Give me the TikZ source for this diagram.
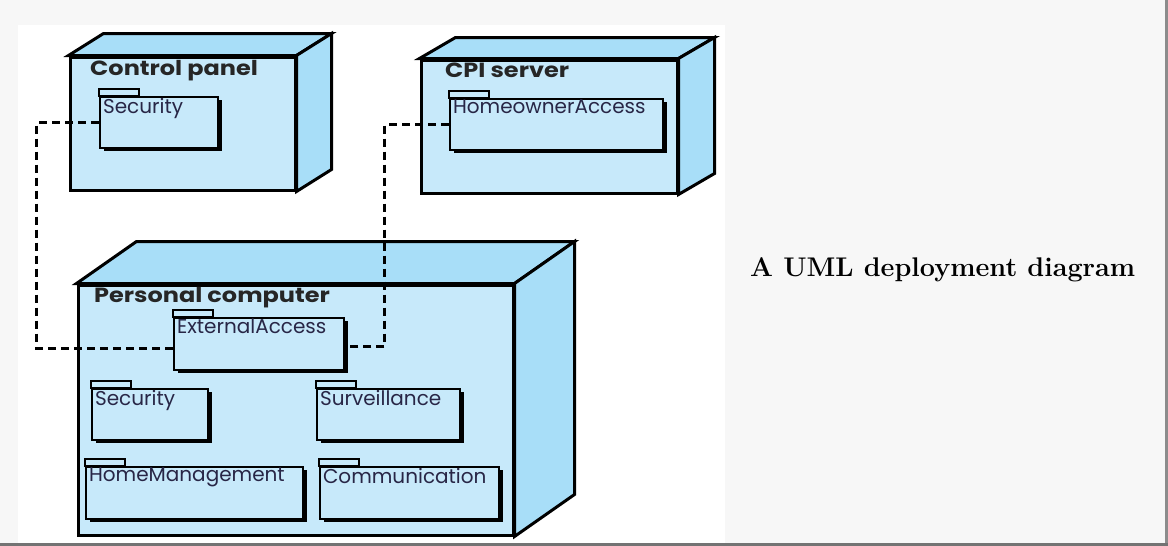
\documentclass[tikz,border=0pt]{standalone}
\usepackage{fontspec}
\newfontfamily\geofont{Poppins}
\newfontfamily\geowide[FakeStretch=1.17]{Poppins}
\usetikzlibrary{shadows}

\definecolor{faceblue}{RGB}{199,233,250}
\definecolor{sideblue}{RGB}{168,222,248}
\definecolor{pagegray}{RGB}{247,247,247}
\definecolor{labelink}{RGB}{40,38,70}

\tikzset{
  device/.style={draw, line width=3pt, fill=faceblue, inner sep=0pt},
  devtitle/.style={anchor=base west, inner sep=0pt, text=black!85,
    font=\geowide\bfseries\fontsize{20.5}{22}\selectfont},
  pkg/.style={draw, line width=2.3pt, fill=faceblue, inner sep=0pt,
    drop shadow={shadow xshift=4pt, shadow yshift=-3pt, fill=black, opacity=1}},
  pkgtab/.style={draw, line width=1.8pt, fill=faceblue},
  pkgtext/.style={anchor=north west, inner sep=0pt, xshift=4pt, yshift=-2pt,
    text=labelink, font=\geofont\fontsize{20}{22}\selectfont},
  conn/.style={line width=3pt, dash pattern=on 8pt off 5pt}
}

\begin{document}
\begin{tikzpicture}[x=1pt, y=-1pt]
  \useasboundingbox (0,0) rectangle (1168,546);
  \fill[pagegray] (0,0) rectangle (1168,546);
  \fill[white] (18,25) rectangle (725,543);
  \fill[black!55] (0,543) rectangle (1168,546);
  \fill[black!45] (1165,0) rectangle (1168,543);

  % nodes (front faces)
  \node[device, minimum width=225pt, minimum height=133pt] (cp) at (182.5,123.5) {};
  \node[device, minimum width=256pt, minimum height=133pt] (cpi) at (549,126.5) {};
  \node[device, minimum width=435pt, minimum height=250pt] (pc) at (295.5,410) {};

  % top and side faces
  \foreach \d/\dx/\dy in {cp/35/22, cpi/36/21, pc/60/42} {
    \draw[device, fill=sideblue] (\d.north west) -- ++(\dx,-\dy)
      -- ([shift={(\dx,-\dy)}]\d.north east) -- (\d.north east) -- cycle;
    \draw[device, fill=sideblue] (\d.north east) -- ++(\dx,-\dy)
      -- ([shift={(\dx,-\dy)}]\d.south east) -- (\d.south east) -- cycle;
  }

  \node[devtitle] (cptitle) at (90,75) {Control panel};
  \node[devtitle] (cpititle) at (445,77) {CPI server};
  \node[devtitle] (pctitle) at (94,302) {Personal computer};

  % packages
  \node[pkg, minimum width=118pt, minimum height=51pt,
    label={[pkgtext]north west:Security}] (cpsec) at (159,122.5) {};
  \node[pkg, minimum width=213pt, minimum height=51pt,
    label={[pkgtext]north west:HomeownerAccess}] (hoacc) at (556.5,124.5) {};
  \node[pkg, minimum width=170pt, minimum height=52pt,
    label={[pkgtext]north west:ExternalAccess}] (extacc) at (259,344) {};
  \node[pkg, minimum width=116pt, minimum height=51pt,
    label={[pkgtext]north west:Security}] (pcsec) at (150,414.5) {};
  \node[pkg, minimum width=143pt, minimum height=51pt,
    label={[pkgtext]north west:Surveillance}] (surv) at (388.5,414.5) {};
  \node[pkg, minimum width=217pt, minimum height=52pt,
    label={[pkgtext]north west:HomeManagement}] (homemgmt) at (194.5,493) {};
  \node[pkg, minimum width=179pt, minimum height=52pt,
    label={[pkgtext]north west:Communication}] (comm) at (409.5,493) {};

  \foreach \p in {cpsec, hoacc, extacc, pcsec, surv, homemgmt, comm}
    \draw[pkgtab] (\p.north west) rectangle +(40,-7);

  % dependencies
  \draw[conn] (cpsec.west) -- ++(-62,0) |- ([yshift=-4pt]extacc.west);
  \draw[conn] (hoacc.west) -- ++(-64,0) |- ([yshift=-2pt]extacc.east);

  \node[anchor=base west, inner sep=0pt, font=\bfseries\fontsize{27}{30}\selectfont]
    (caption) at (750,276) {A UML deployment diagram};
\end{tikzpicture}
\end{document}
